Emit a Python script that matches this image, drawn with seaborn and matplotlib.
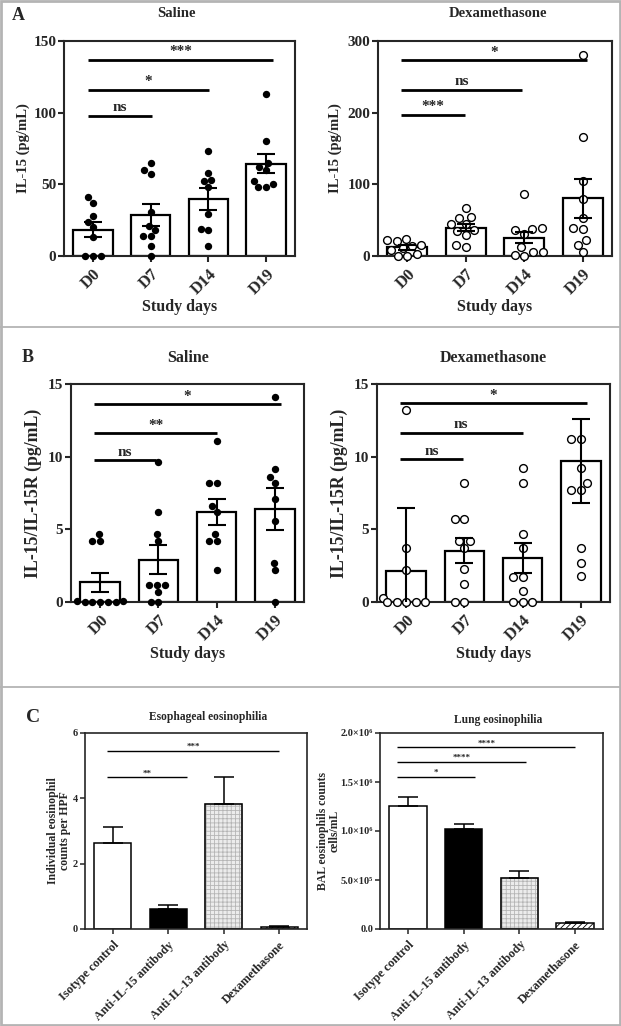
import numpy as np
import pandas as pd
import matplotlib
matplotlib.use("Agg")
import matplotlib.pyplot as plt
from matplotlib.lines import Line2D
from matplotlib.patches import Rectangle
import seaborn as sns

# --- values ---
days = ["D0", "D7", "D14", "D19"]

# A: IL-15 (pg/mL)
a_sal_pts = [[41, 37, 28, 24, 20, 13, 0, 0, 0],
             [60, 57, 65, 31, 21, 18, 14, 14, 7, 0],
             [73, 58, 52, 53, 48, 29, 19, 18, 7],
             [113, 80, 65, 62, 60, 50, 48, 48, 52]]
a_sal_mean = [18.3, 28.7, 39.8, 64.5]
a_sal_err = [5.3, 7.5, 7.6, 6.8]
a_sal_sig = [(-0.08, 1.03, 98, "ns"), (-0.08, 2.01, 116, "*"), (-0.08, 3.12, 137, "***")]

a_dex_pts = [[23, 21, 24, 15, 14, 11, 9, 3, 0, 0],
             [67, 53, 55, 44, 45, 35, 36, 29, 13, 16],
             [86, 39, 36, 31, 38, 12, 5, 1, 5, 0],
             [280, 166, 105, 80, 53, 38, 39, 23, 16, 5]]
a_dex_mean = [12, 39.5, 25.6, 80.5]
a_dex_err = [3, 5, 8, 27]
a_dex_sig = [(-0.11, 0.98, 197, "***"), (-0.11, 1.96, 232, "ns"), (-0.11, 3.07, 273.5, "*")]

# B: IL-15/IL-15R (pg/mL)
b_sal_pts = [[4.2, 4.2, 4.7, 0.1, 0, 0, 0.1, 0, 0, 0],
             [9.6, 6.2, 4.7, 4.2, 1.2, 0.7, 1.2, 1.2, 0, 0],
             [11.1, 8.2, 8.2, 6.2, 6.6, 4.2, 4.2, 4.7, 2.2],
             [14.1, 9.15, 8.6, 8.2, 7.1, 5.6, 2.7, 2.2, 0]]
b_sal_mean = [1.36, 2.9, 6.17, 6.4]
b_sal_err = [0.65, 1.0, 0.9, 1.42]
b_sal_sig = [(-0.1, 0.96, 9.77, "ns"), (-0.1, 2.01, 11.6, "**"), (-0.1, 3.1, 13.63, "*")]

b_dex_pts = [[13.2, 3.7, 2.2, 0.3, 0, 0, 0, 0, 0],
             [8.2, 5.7, 5.7, 4.2, 4.2, 3.7, 2.25, 1.24, 0, 0],
             [9.2, 8.2, 4.7, 3.7, 1.7, 1.7, 0.76, 0, 0, 0],
             [11.2, 11.2, 9.2, 8.2, 7.7, 7.7, 3.7, 2.7, 1.8]]
b_dex_mean = [2.16, 3.53, 3.05, 9.7]
b_dex_err = [4.3, 0.85, 1.03, 2.86]
b_dex_sig = [(-0.11, 0.98, 9.82, "ns"), (-0.11, 2.0, 11.65, "ns"), (-0.11, 3.1, 13.67, "*")]

# C: antibody treatments
c_groups = ["Isotype control", "Anti-IL-15 antibody", "Anti-IL-13 antibody", "Dexamethasone"]
c_eso_mean = [2.62, 0.6, 3.83, 0.05]
c_eso_err = [0.5, 0.14, 0.81, 0.04]
c_eso_sig = [(-0.1, 1.34, 4.64, "**"), (-0.1, 3.0, 5.46, "***")]
c_lung_mean = [1.26e6, 1.025e6, 0.52e6, 0.06e6]
c_lung_err = [0.085e6, 0.05e6, 0.075e6, 0.012e6]
c_lung_sig = [(-0.19, 1.21, 1.549e6, "*"), (-0.19, 2.12, 1.708e6, "****"), (-0.19, 3.0, 1.854e6, "****")]
c_lung_ticks = [0, 5e5, 1e6, 1.5e6, 2e6]
c_lung_ticklabels = ["0.0", "5.0×10⁵", "1.0×10⁶", "1.5×10⁶", "2.0×10⁶"]

# --- style ---
W, H = 621, 1026
sns.set_style("ticks")
plt.rcParams["font.family"] = ["Liberation Serif", "DejaVu Serif"]
plt.rcParams["font.weight"] = "bold"
plt.rcParams["axes.labelweight"] = "bold"
plt.rcParams["hatch.linewidth"] = 0.6

fig = plt.figure(figsize=(W / 100, H / 100), dpi=100)


def px_axes(l, t, r, b):
    return fig.add_axes([l / W, 1 - b / H, (r - l) / W, (b - t) / H])


def px_text(x, y, s, **kw):
    fig.text(x / W, 1 - y / H, s, ha="center", va="center", **kw)


def draw_sig(ax, sig, lw, fs, gap):
    for x0, x1, y, lab in sig:
        ax.plot([x0, x1], [y, y], color="black", lw=lw, solid_capstyle="butt")
        ax.annotate(lab, xy=((x0 + x1) / 2, y), xytext=(0, gap), textcoords="offset points",
                    ha="center", va="bottom", fontsize=fs, fontweight="bold")


def dot_panel(ax, pts, means, errs, sig, ymax, yticks, ylabel, filled, ylab_x, ylab_fs):
    df = pd.DataFrame({"day": np.repeat(days, [len(p) for p in pts]),
                       "value": np.concatenate(pts)})
    sns.barplot(x=days, y=means, color="white", edgecolor="black", linewidth=1.6,
                width=0.68, saturation=1, errorbar=None, ax=ax, zorder=1)
    sns.swarmplot(data=df, x="day", y="value", order=days,
                  color="black" if filled else "white", edgecolor="black",
                  linewidth=0 if filled else 1.0, size=5.3 if filled else 5.6,
                  warn_thresh=1, clip_on=False, ax=ax, zorder=3)
    ax.errorbar(np.arange(len(days)), means, yerr=errs, fmt="none", ecolor="black",
                elinewidth=1.5, capsize=6.5, capthick=1.5, zorder=4)
    draw_sig(ax, sig, 2.0, 11, 1)
    ax.set_xlim(-0.5, 3.5)
    ax.set_ylim(0, ymax)
    ax.set_yticks(yticks)
    for s in ax.spines.values():
        s.set_linewidth(1.5)
    ax.tick_params(direction="out", length=4, width=1.5, labelsize=11)
    ax.tick_params(axis="y", pad=1.5)
    ax.set_xticks(range(len(days)))
    ax.set_xticklabels(days, rotation=45, ha="right", rotation_mode="anchor", fontsize=12)
    ax.set_ylabel(ylabel, fontsize=ylab_fs)
    ax.yaxis.label.set_va("center")
    ax.yaxis.set_label_coords(ylab_x, 0.5)
    ax.set_xlabel("Study days", fontsize=11.5)
    ax.xaxis.label.set_va("center")
    ax.xaxis.set_label_coords(0.5, -0.237)


def bar_panel(ax, means, errs, sig, ymax, ylabel, ylab_x):
    sns.barplot(x=c_groups, y=means, hue=c_groups, palette=["white", "black", "#ececec", "white"],
                legend=False, edgecolor="black", linewidth=1.1, width=0.67, saturation=1,
                errorbar=None, ax=ax, zorder=1)
    bars = list(ax.patches)
    bars[2].set_hatch("++++")
    bars[2].set_edgecolor("#b5b5b5")
    bars[3].set_hatch("//////")
    for p in bars[2:3]:
        ax.add_patch(Rectangle(p.get_xy(), p.get_width(), p.get_height(), fill=False,
                               ec="black", lw=1.1, zorder=2))
    ax.errorbar(np.arange(len(c_groups)), means, yerr=[np.zeros(len(errs)), errs], fmt="none",
                ecolor="black", elinewidth=1.1, capsize=7, capthick=1.1, zorder=3)
    draw_sig(ax, sig, 1.0, 6.5, 0)
    ax.set_xlim(-0.5, 3.5)
    ax.set_ylim(0, ymax)
    for s in ax.spines.values():
        s.set_linewidth(1.2)
    ax.tick_params(direction="out", length=3.5, width=1.1, labelsize=7.5)
    ax.tick_params(axis="y", pad=1.5)
    ax.set_xticks(range(len(c_groups)))
    ax.set_xticklabels(c_groups, rotation=45, ha="right", rotation_mode="anchor", fontsize=8.8)
    ax.set_ylabel(ylabel, fontsize=8.5, linespacing=1.0)
    ax.yaxis.label.set_va("center")
    ax.yaxis.set_label_coords(ylab_x, 0.5)
    ax.set_xlabel("")


# --- panel A ---
ax = px_axes(64, 41, 295, 256)
dot_panel(ax, a_sal_pts, a_sal_mean, a_sal_err, a_sal_sig, 150, [0, 50, 100, 150],
          "IL-15 (pg/mL)", True, -0.175, 10.5)
ax = px_axes(378, 41, 612, 256)
dot_panel(ax, a_dex_pts, a_dex_mean, a_dex_err, a_dex_sig, 300, [0, 100, 200, 300],
          "IL-15 (pg/mL)", False, -0.184, 10.5)
px_text(18, 15, "A", fontsize=13, fontweight="bold")
px_text(176, 14, "Saline", fontsize=10.5, fontweight="bold")
px_text(498, 14, "Dexamethasone", fontsize=10.5, fontweight="bold")

# --- panel B ---
ax = px_axes(71, 384, 304, 602)
dot_panel(ax, b_sal_pts, b_sal_mean, b_sal_err, b_sal_sig, 15, [0, 5, 10, 15],
          "IL-15/IL-15R (pg/mL)", True, -0.163, 12.8)
ax = px_axes(377, 384, 610, 602)
dot_panel(ax, b_dex_pts, b_dex_mean, b_dex_err, b_dex_sig, 15, [0, 5, 10, 15],
          "IL-15/IL-15R (pg/mL)", False, -0.163, 12.8)
px_text(28, 358, "B", fontsize=13, fontweight="bold")
px_text(188, 358, "Saline", fontsize=11.5, fontweight="bold")
px_text(493, 358, "Dexamethasone", fontsize=11.5, fontweight="bold")

# --- panel C ---
ax = px_axes(85, 733, 307, 929)
bar_panel(ax, c_eso_mean, c_eso_err, c_eso_sig, 6, "Individual eosinophil\ncounts per HPF", -0.117)
ax.set_yticks([0, 2, 4, 6])
ax = px_axes(380, 733, 603, 929)
bar_panel(ax, c_lung_mean, c_lung_err, c_lung_sig, 2e6, "BAL eosinophils counts\ncells/mL", -0.229)
ax.set_yticks(c_lung_ticks)
ax.set_yticklabels(c_lung_ticklabels)
px_text(33, 718, "C", fontsize=14, fontweight="bold")
px_text(208, 717, "Esophageal eosinophilia", fontsize=8.3, fontweight="bold")
px_text(498, 720, "Lung eosinophilia", fontsize=8.3, fontweight="bold")

# --- panel frames ---
for y in [327, 687]:
    fig.add_artist(Line2D([0, 1], [1 - y / H, 1 - y / H], transform=fig.transFigure,
                          color="#b4b4b4", lw=1.3))
fig.add_artist(Rectangle((0.001, 0.001), 0.997, 0.998, transform=fig.transFigure,
                         fill=False, ec="#b4b4b4", lw=2))

fig.savefig("out.png", dpi=100)
